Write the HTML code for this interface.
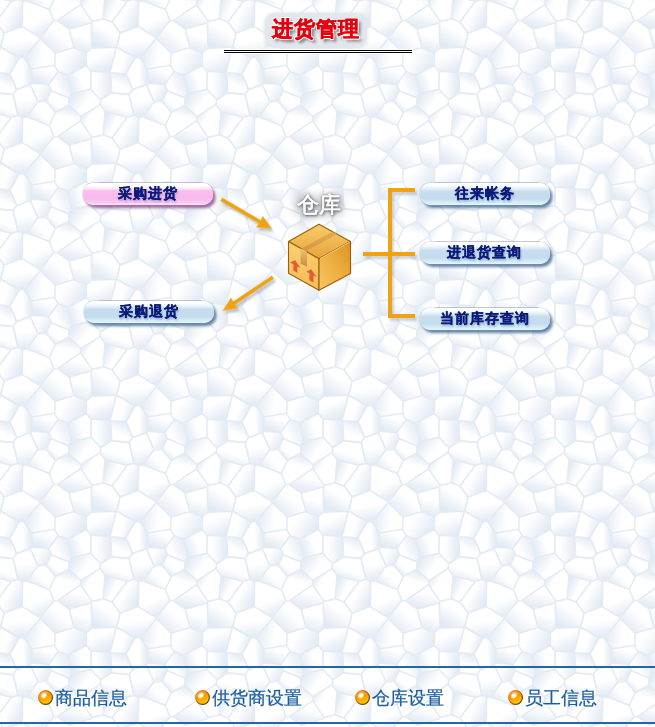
<!DOCTYPE html>
<html><head><meta charset="utf-8">
<style>
html,body{margin:0;padding:0;}
body{width:655px;height:727px;overflow:hidden;position:relative;background:#fff;font-family:"Liberation Sans",sans-serif;}
.abs{position:absolute;}
.title{left:265px;top:13px;width:102px;height:35px;border-radius:9px;background:rgba(224,229,235,.9);box-shadow:0 0 3px 1px rgba(224,229,235,.8);text-align:center;font-size:21px;font-weight:bold;line-height:32px;-webkit-text-stroke:.6px #e4000e;letter-spacing:1px;text-indent:-1px;color:#e4000e;text-shadow:1px 0 0 #fff,-1px 0 0 #fff,0 1px 0 #fff,0 -1px 0 #fff,1px 1px 0 #fff,-1px -1px 0 #fff,1px -1px 0 #fff,-1px 1px 0 #fff,3px 3px 3px rgba(0,0,0,.55);}
.dbl{left:223px;top:49px;width:190px;height:5px;background:#fff;}
.dbl:before,.dbl:after{content:"";position:absolute;left:1px;right:1px;height:1px;background:#000;}
.dbl:before{top:1px}.dbl:after{top:3px}
.btn{width:130px;height:22px;border-radius:10px;text-align:center;font-size:14px;font-weight:bold;line-height:21px;letter-spacing:1px;text-indent:-1px;color:#0a1a78;-webkit-text-stroke:.3px #0a1a78;text-shadow:1px 2px 2px rgba(30,70,150,.35);}
.btn:before{content:"";position:absolute;left:15px;right:12px;top:-1px;height:1px;background:rgba(140,140,160,.35);}
.pink{background:linear-gradient(#fff 0,#fff 12%,#fdeefa 24%,#fabdee 36%,#f9b8ec 70%,#fac8f0 88%,#fde4f8 100%);box-shadow:0 0 0 .6px rgba(170,130,170,.45),2.5px 3px 3px rgba(130,70,130,.8);}
.blue{background:linear-gradient(#fff 0,#fdfeff 12%,#e6f2fa 24%,#c8deef 38%,#c4dbee 70%,#d4eaf6 86%,#e4f6fc 100%);box-shadow:0 0 0 .6px rgba(130,160,190,.45),2.5px 3px 3px rgba(60,100,140,.8);}
.foot{top:688px;font-size:18px;line-height:20px;color:#1a5c9e;-webkit-text-stroke:.25px #1a5c9e;text-shadow:0 0 2px #fff,0 0 1px #e8f6ff;}
.orb{position:absolute;top:2px;left:0;}
.foot span{position:absolute;left:17px;top:0;white-space:nowrap;}
</style></head><body>
<svg class="abs" style="left:0;top:0" width="655" height="727"><defs><linearGradient id="g4" x1="1.00" y1="0.50" x2="0.00" y2="0.50"><stop offset="0" stop-color="#e1e9f4"/><stop offset="0.41" stop-color="#fff"/></linearGradient><linearGradient id="g10" x1="0.91" y1="0.78" x2="0.09" y2="0.22"><stop offset="0" stop-color="#e1e9f4"/><stop offset="0.59" stop-color="#fff"/></linearGradient><linearGradient id="g19" x1="0.60" y1="0.99" x2="0.40" y2="0.01"><stop offset="0" stop-color="#e1e9f4"/><stop offset="0.53" stop-color="#fff"/></linearGradient><linearGradient id="g2" x1="0.13" y1="0.84" x2="0.87" y2="0.16"><stop offset="0" stop-color="#e1e9f4"/><stop offset="0.51" stop-color="#fff"/></linearGradient><linearGradient id="g16" x1="0.57" y1="1.00" x2="0.43" y2="0.00"><stop offset="0" stop-color="#e1e9f4"/><stop offset="0.55" stop-color="#fff"/></linearGradient><linearGradient id="g18" x1="0.08" y1="0.22" x2="0.92" y2="0.78"><stop offset="0" stop-color="#e1e9f4"/><stop offset="0.55" stop-color="#fff"/></linearGradient><linearGradient id="g24" x1="0.28" y1="0.95" x2="0.72" y2="0.05"><stop offset="0" stop-color="#e1e9f4"/><stop offset="0.47" stop-color="#fff"/></linearGradient><linearGradient id="g0" x1="0.00" y1="0.43" x2="1.00" y2="0.57"><stop offset="0" stop-color="#e1e9f4"/><stop offset="0.62" stop-color="#fff"/></linearGradient><linearGradient id="g1" x1="0.12" y1="0.18" x2="0.88" y2="0.82"><stop offset="0" stop-color="#e1e9f4"/><stop offset="0.36" stop-color="#fff"/></linearGradient><linearGradient id="g3" x1="0.69" y1="0.96" x2="0.31" y2="0.04"><stop offset="0" stop-color="#e1e9f4"/><stop offset="0.47" stop-color="#fff"/></linearGradient><linearGradient id="g5" x1="0.93" y1="0.75" x2="0.07" y2="0.25"><stop offset="0" stop-color="#e1e9f4"/><stop offset="0.77" stop-color="#fff"/></linearGradient><linearGradient id="g6" x1="0.24" y1="0.93" x2="0.76" y2="0.07"><stop offset="0" stop-color="#e1e9f4"/><stop offset="0.62" stop-color="#fff"/></linearGradient><linearGradient id="g7" x1="0.95" y1="0.72" x2="0.05" y2="0.28"><stop offset="0" stop-color="#e1e9f4"/><stop offset="0.72" stop-color="#fff"/></linearGradient><linearGradient id="g8" x1="0.75" y1="0.93" x2="0.25" y2="0.07"><stop offset="0" stop-color="#e1e9f4"/><stop offset="0.72" stop-color="#fff"/></linearGradient><linearGradient id="g9" x1="0.97" y1="0.67" x2="0.03" y2="0.33"><stop offset="0" stop-color="#e1e9f4"/><stop offset="0.50" stop-color="#fff"/></linearGradient><linearGradient id="g11" x1="0.39" y1="0.99" x2="0.61" y2="0.01"><stop offset="0" stop-color="#e1e9f4"/><stop offset="0.60" stop-color="#fff"/></linearGradient><linearGradient id="g12" x1="0.33" y1="0.97" x2="0.67" y2="0.03"><stop offset="0" stop-color="#e1e9f4"/><stop offset="0.70" stop-color="#fff"/></linearGradient><linearGradient id="g13" x1="0.64" y1="0.02" x2="0.36" y2="0.98"><stop offset="0" stop-color="#e1e9f4"/><stop offset="0.39" stop-color="#fff"/></linearGradient><linearGradient id="g14" x1="0.04" y1="0.70" x2="0.96" y2="0.30"><stop offset="0" stop-color="#e1e9f4"/><stop offset="0.61" stop-color="#fff"/></linearGradient><linearGradient id="g15" x1="0.18" y1="0.89" x2="0.82" y2="0.11"><stop offset="0" stop-color="#e1e9f4"/><stop offset="0.62" stop-color="#fff"/></linearGradient><linearGradient id="g17" x1="0.94" y1="0.25" x2="0.06" y2="0.75"><stop offset="0" stop-color="#e1e9f4"/><stop offset="0.72" stop-color="#fff"/></linearGradient><linearGradient id="g20" x1="0.06" y1="0.26" x2="0.94" y2="0.74"><stop offset="0" stop-color="#e1e9f4"/><stop offset="0.48" stop-color="#fff"/></linearGradient><linearGradient id="g21" x1="0.15" y1="0.85" x2="0.85" y2="0.15"><stop offset="0" stop-color="#e1e9f4"/><stop offset="0.39" stop-color="#fff"/></linearGradient><linearGradient id="g22" x1="1.00" y1="0.50" x2="0.00" y2="0.50"><stop offset="0" stop-color="#e1e9f4"/><stop offset="0.76" stop-color="#fff"/></linearGradient><linearGradient id="g23" x1="0.24" y1="0.92" x2="0.76" y2="0.08"><stop offset="0" stop-color="#e1e9f4"/><stop offset="0.76" stop-color="#fff"/></linearGradient><linearGradient id="g25" x1="0.72" y1="0.05" x2="0.28" y2="0.95"><stop offset="0" stop-color="#e1e9f4"/><stop offset="0.63" stop-color="#fff"/></linearGradient><filter id="tb"><feGaussianBlur stdDeviation="0.7"/></filter><g id="tile"><path d="M5.8,67.0 L-1.9,55.7 L-6.9,55.8 L-15.9,71.9 L-9.2,87.4 L4.2,82.7 L5.5,81.2 L5.8,67.0Z" fill="url(#g4)"/><path d="M-29.8,19.9 L-21.9,31.0 L-3.7,24.6 L-3.5,-0.4 L-8.0,-2.8 L-14.9,-0.4 L-29.8,19.9Z" fill="url(#g10)"/><path d="M14.3,35.7 L14.4,36.5 L-1.9,55.7 L-6.9,55.8 L-25.2,45.0 L-21.9,31.0 L-3.7,24.6 L14.3,35.7Z" fill="url(#g19)"/><path d="M-21.9,147.0 L-29.8,135.9 L-14.9,115.6 L-8.0,113.2 L-3.5,115.6 L-3.7,140.6 L-21.9,147.0Z" fill="url(#g10)"/><path d="M23.3,7.5 L1.1,-1.1 L11.9,-16.1 L19.8,-16.7 L29.3,-5.5 L23.3,7.5Z" fill="url(#g2)"/><path d="M11.9,-16.1 L4.2,-33.3 L-9.2,-28.6 L-12.8,-23.4 L-8.0,-2.8 L-3.5,-0.4 L1.1,-1.1 L11.9,-16.1Z" fill="url(#g16)"/><path d="M54.8,-1.5 L74.0,-13.4 L74.7,-18.3 L65.0,-28.5 L45.7,-24.5 L42.9,-20.1 L42.7,-12.8 L54.8,-1.5Z" fill="url(#g18)"/><path d="M74.0,-13.4 L79.0,-6.5 L101.1,-0.4 L108.0,-2.8 L103.2,-23.4 L85.8,-25.1 L74.7,-18.3 L74.0,-13.4Z" fill="url(#g24)"/><path d="M28.6,63.2 L5.8,67.0 L-1.9,55.7 L14.4,36.5 L29.2,51.2 L28.6,63.2Z" fill="url(#g0)"/><path d="M54.8,-1.5 L74.0,-13.4 L79.0,-6.5 L77.2,16.7 L66.2,19.4 L54.6,2.7 L54.8,-1.5Z" fill="url(#g1)"/><path d="M11.9,99.9 L1.1,114.9 L23.3,123.5 L29.3,110.5 L19.8,99.3 L11.9,99.9Z" fill="url(#g2)"/><path d="M27.9,18.4 L14.3,35.7 L-3.7,24.6 L-3.5,-0.4 L1.1,-1.1 L23.3,7.5 L27.9,18.4Z" fill="url(#g3)"/><path d="M106.8,87.4 L120.2,82.7 L121.5,81.2 L121.8,67.0 L114.1,55.7 L109.1,55.8 L100.1,71.9 L106.8,87.4Z" fill="url(#g4)"/><path d="M28.6,63.2 L29.2,51.2 L47.8,45.4 L60.3,50.7 L60.3,63.6 L41.7,73.0 L32.0,69.6 L28.6,63.2Z" fill="url(#g5)"/><path d="M86.2,19.9 L94.1,31.0 L90.8,45.0 L90.3,45.3 L65.7,46.1 L65.4,20.8 L66.2,19.4 L77.2,16.7 L86.2,19.9Z" fill="url(#g6)"/><path d="M5.5,81.2 L4.2,82.7 L11.9,99.9 L19.8,99.3 L25.4,88.8 L22.9,82.5 L5.5,81.2Z" fill="url(#g7)"/><path d="M60.3,50.7 L65.7,46.1 L90.3,45.3 L84.1,70.2 L65.1,69.3 L60.3,63.6 L60.3,50.7Z" fill="url(#g8)"/><path d="M84.6,70.7 L84.1,70.2 L90.3,45.3 L90.8,45.0 L109.1,55.8 L100.1,71.9 L84.6,70.7Z" fill="url(#g9)"/><path d="M101.1,-0.4 L108.0,-2.8 L112.5,-0.4 L112.3,24.6 L94.1,31.0 L86.2,19.9 L101.1,-0.4Z" fill="url(#g10)"/><path d="M47.8,45.4 L43.1,27.2 L65.4,20.8 L65.7,46.1 L60.3,50.7 L47.8,45.4Z" fill="url(#g11)"/><path d="M31.3,18.7 L43.1,27.2 L65.4,20.8 L66.2,19.4 L54.6,2.7 L31.3,18.7Z" fill="url(#g12)"/><path d="M31.3,18.7 L54.6,2.7 L54.8,-1.5 L42.7,-12.8 L29.3,-5.5 L23.3,7.5 L27.9,18.4 L31.3,18.7Z" fill="url(#g13)"/><path d="M41.7,73.0 L45.7,91.5 L65.0,87.5 L65.1,69.3 L60.3,63.6 L41.7,73.0Z" fill="url(#g14)"/><path d="M31.3,18.7 L43.1,27.2 L47.8,45.4 L29.2,51.2 L14.4,36.5 L14.3,35.7 L27.9,18.4 L31.3,18.7Z" fill="url(#g15)"/><path d="M4.2,82.7 L-9.2,87.4 L-12.8,92.6 L-8.0,113.2 L-3.5,115.6 L1.1,114.9 L11.9,99.9 L4.2,82.7Z" fill="url(#g16)"/><path d="M32.0,69.6 L22.9,82.5 L25.4,88.8 L42.9,95.9 L45.7,91.5 L41.7,73.0 L32.0,69.6Z" fill="url(#g17)"/><path d="M65.0,87.5 L45.7,91.5 L42.9,95.9 L42.7,103.2 L54.8,114.5 L74.0,102.6 L74.7,97.7 L65.0,87.5Z" fill="url(#g18)"/><path d="M94.1,31.0 L90.8,45.0 L109.1,55.8 L114.1,55.7 L130.4,36.5 L130.3,35.7 L112.3,24.6 L94.1,31.0Z" fill="url(#g19)"/><path d="M101.1,-0.4 L86.2,19.9 L77.2,16.7 L79.0,-6.5 L101.1,-0.4Z" fill="url(#g20)"/><path d="M19.8,99.3 L29.3,110.5 L42.7,103.2 L42.9,95.9 L25.4,88.8 L19.8,99.3Z" fill="url(#g21)"/><path d="M85.8,90.9 L74.7,97.7 L65.0,87.5 L65.1,69.3 L84.1,70.2 L84.6,70.7 L85.8,90.9Z" fill="url(#g22)"/><path d="M28.6,63.2 L5.8,67.0 L5.5,81.2 L22.9,82.5 L32.0,69.6 L28.6,63.2Z" fill="url(#g23)"/><path d="M103.2,92.6 L108.0,113.2 L101.1,115.6 L79.0,109.5 L74.0,102.6 L74.7,97.7 L85.8,90.9 L103.2,92.6Z" fill="url(#g24)"/><path d="M103.2,92.6 L85.8,90.9 L84.6,70.7 L100.1,71.9 L106.8,87.4 L103.2,92.6Z" fill="url(#g25)"/><path d="M77.2,132.7 L79.0,109.5 L74.0,102.6 L54.8,114.5 L54.6,118.7 L66.2,135.4 L77.2,132.7Z" fill="url(#g1)"/><path d="M-3.7,140.6 L-3.5,115.6 L1.1,114.9 L23.3,123.5 L27.9,134.4 L14.3,151.7 L-3.7,140.6Z" fill="url(#g3)"/><path d="M108.0,113.2 L101.1,115.6 L86.2,135.9 L94.1,147.0 L112.3,140.6 L112.5,115.6 L108.0,113.2Z" fill="url(#g10)"/><path d="M65.4,136.8 L66.2,135.4 L54.6,118.7 L31.3,134.7 L43.1,143.2 L65.4,136.8Z" fill="url(#g12)"/><path d="M27.9,134.4 L23.3,123.5 L29.3,110.5 L42.7,103.2 L54.8,114.5 L54.6,118.7 L31.3,134.7 L27.9,134.4Z" fill="url(#g13)"/><path d="M86.2,135.9 L77.2,132.7 L79.0,109.5 L101.1,115.6 L86.2,135.9Z" fill="url(#g20)"/><path d="M139.3,7.5 L117.1,-1.1 L127.9,-16.1 L135.8,-16.7 L145.3,-5.5 L139.3,7.5Z" fill="url(#g2)"/><path d="M108.0,-2.8 L112.5,-0.4 L117.1,-1.1 L127.9,-16.1 L120.2,-33.3 L106.8,-28.6 L103.2,-23.4 L108.0,-2.8Z" fill="url(#g16)"/><path d="M144.6,63.2 L121.8,67.0 L114.1,55.7 L130.4,36.5 L145.2,51.2 L144.6,63.2Z" fill="url(#g0)"/><path d="M145.3,110.5 L139.3,123.5 L117.1,114.9 L127.9,99.9 L135.8,99.3 L145.3,110.5Z" fill="url(#g2)"/><path d="M112.3,24.6 L130.3,35.7 L143.9,18.4 L139.3,7.5 L117.1,-1.1 L112.5,-0.4 L112.3,24.6Z" fill="url(#g3)"/><path d="M103.2,92.6 L108.0,113.2 L112.5,115.6 L117.1,114.9 L127.9,99.9 L120.2,82.7 L106.8,87.4 L103.2,92.6Z" fill="url(#g16)"/><path d="M112.5,115.6 L117.1,114.9 L139.3,123.5 L143.9,134.4 L130.3,151.7 L112.3,140.6 L112.5,115.6Z" fill="url(#g3)"/><path d="M5.8,67.0 L-1.9,55.7 L-6.9,55.8 L-15.9,71.9 L-9.2,87.4 L4.2,82.7 L5.5,81.2 L5.8,67.0Z M-29.8,19.9 L-21.9,31.0 L-3.7,24.6 L-3.5,-0.4 L-8.0,-2.8 L-14.9,-0.4 L-29.8,19.9Z M14.3,35.7 L14.4,36.5 L-1.9,55.7 L-6.9,55.8 L-25.2,45.0 L-21.9,31.0 L-3.7,24.6 L14.3,35.7Z M-21.9,147.0 L-29.8,135.9 L-14.9,115.6 L-8.0,113.2 L-3.5,115.6 L-3.7,140.6 L-21.9,147.0Z M23.3,7.5 L1.1,-1.1 L11.9,-16.1 L19.8,-16.7 L29.3,-5.5 L23.3,7.5Z M11.9,-16.1 L4.2,-33.3 L-9.2,-28.6 L-12.8,-23.4 L-8.0,-2.8 L-3.5,-0.4 L1.1,-1.1 L11.9,-16.1Z M54.8,-1.5 L74.0,-13.4 L74.7,-18.3 L65.0,-28.5 L45.7,-24.5 L42.9,-20.1 L42.7,-12.8 L54.8,-1.5Z M74.0,-13.4 L79.0,-6.5 L101.1,-0.4 L108.0,-2.8 L103.2,-23.4 L85.8,-25.1 L74.7,-18.3 L74.0,-13.4Z M28.6,63.2 L5.8,67.0 L-1.9,55.7 L14.4,36.5 L29.2,51.2 L28.6,63.2Z M54.8,-1.5 L74.0,-13.4 L79.0,-6.5 L77.2,16.7 L66.2,19.4 L54.6,2.7 L54.8,-1.5Z M11.9,99.9 L1.1,114.9 L23.3,123.5 L29.3,110.5 L19.8,99.3 L11.9,99.9Z M27.9,18.4 L14.3,35.7 L-3.7,24.6 L-3.5,-0.4 L1.1,-1.1 L23.3,7.5 L27.9,18.4Z M106.8,87.4 L120.2,82.7 L121.5,81.2 L121.8,67.0 L114.1,55.7 L109.1,55.8 L100.1,71.9 L106.8,87.4Z M28.6,63.2 L29.2,51.2 L47.8,45.4 L60.3,50.7 L60.3,63.6 L41.7,73.0 L32.0,69.6 L28.6,63.2Z M86.2,19.9 L94.1,31.0 L90.8,45.0 L90.3,45.3 L65.7,46.1 L65.4,20.8 L66.2,19.4 L77.2,16.7 L86.2,19.9Z M5.5,81.2 L4.2,82.7 L11.9,99.9 L19.8,99.3 L25.4,88.8 L22.9,82.5 L5.5,81.2Z M60.3,50.7 L65.7,46.1 L90.3,45.3 L84.1,70.2 L65.1,69.3 L60.3,63.6 L60.3,50.7Z M84.6,70.7 L84.1,70.2 L90.3,45.3 L90.8,45.0 L109.1,55.8 L100.1,71.9 L84.6,70.7Z M101.1,-0.4 L108.0,-2.8 L112.5,-0.4 L112.3,24.6 L94.1,31.0 L86.2,19.9 L101.1,-0.4Z M47.8,45.4 L43.1,27.2 L65.4,20.8 L65.7,46.1 L60.3,50.7 L47.8,45.4Z M31.3,18.7 L43.1,27.2 L65.4,20.8 L66.2,19.4 L54.6,2.7 L31.3,18.7Z M31.3,18.7 L54.6,2.7 L54.8,-1.5 L42.7,-12.8 L29.3,-5.5 L23.3,7.5 L27.9,18.4 L31.3,18.7Z M41.7,73.0 L45.7,91.5 L65.0,87.5 L65.1,69.3 L60.3,63.6 L41.7,73.0Z M31.3,18.7 L43.1,27.2 L47.8,45.4 L29.2,51.2 L14.4,36.5 L14.3,35.7 L27.9,18.4 L31.3,18.7Z M4.2,82.7 L-9.2,87.4 L-12.8,92.6 L-8.0,113.2 L-3.5,115.6 L1.1,114.9 L11.9,99.9 L4.2,82.7Z M32.0,69.6 L22.9,82.5 L25.4,88.8 L42.9,95.9 L45.7,91.5 L41.7,73.0 L32.0,69.6Z M65.0,87.5 L45.7,91.5 L42.9,95.9 L42.7,103.2 L54.8,114.5 L74.0,102.6 L74.7,97.7 L65.0,87.5Z M94.1,31.0 L90.8,45.0 L109.1,55.8 L114.1,55.7 L130.4,36.5 L130.3,35.7 L112.3,24.6 L94.1,31.0Z M101.1,-0.4 L86.2,19.9 L77.2,16.7 L79.0,-6.5 L101.1,-0.4Z M19.8,99.3 L29.3,110.5 L42.7,103.2 L42.9,95.9 L25.4,88.8 L19.8,99.3Z M85.8,90.9 L74.7,97.7 L65.0,87.5 L65.1,69.3 L84.1,70.2 L84.6,70.7 L85.8,90.9Z M28.6,63.2 L5.8,67.0 L5.5,81.2 L22.9,82.5 L32.0,69.6 L28.6,63.2Z M103.2,92.6 L108.0,113.2 L101.1,115.6 L79.0,109.5 L74.0,102.6 L74.7,97.7 L85.8,90.9 L103.2,92.6Z M103.2,92.6 L85.8,90.9 L84.6,70.7 L100.1,71.9 L106.8,87.4 L103.2,92.6Z M77.2,132.7 L79.0,109.5 L74.0,102.6 L54.8,114.5 L54.6,118.7 L66.2,135.4 L77.2,132.7Z M-3.7,140.6 L-3.5,115.6 L1.1,114.9 L23.3,123.5 L27.9,134.4 L14.3,151.7 L-3.7,140.6Z M108.0,113.2 L101.1,115.6 L86.2,135.9 L94.1,147.0 L112.3,140.6 L112.5,115.6 L108.0,113.2Z M65.4,136.8 L66.2,135.4 L54.6,118.7 L31.3,134.7 L43.1,143.2 L65.4,136.8Z M27.9,134.4 L23.3,123.5 L29.3,110.5 L42.7,103.2 L54.8,114.5 L54.6,118.7 L31.3,134.7 L27.9,134.4Z M86.2,135.9 L77.2,132.7 L79.0,109.5 L101.1,115.6 L86.2,135.9Z M139.3,7.5 L117.1,-1.1 L127.9,-16.1 L135.8,-16.7 L145.3,-5.5 L139.3,7.5Z M108.0,-2.8 L112.5,-0.4 L117.1,-1.1 L127.9,-16.1 L120.2,-33.3 L106.8,-28.6 L103.2,-23.4 L108.0,-2.8Z M144.6,63.2 L121.8,67.0 L114.1,55.7 L130.4,36.5 L145.2,51.2 L144.6,63.2Z M145.3,110.5 L139.3,123.5 L117.1,114.9 L127.9,99.9 L135.8,99.3 L145.3,110.5Z M112.3,24.6 L130.3,35.7 L143.9,18.4 L139.3,7.5 L117.1,-1.1 L112.5,-0.4 L112.3,24.6Z M103.2,92.6 L108.0,113.2 L112.5,115.6 L117.1,114.9 L127.9,99.9 L120.2,82.7 L106.8,87.4 L103.2,92.6Z M112.5,115.6 L117.1,114.9 L139.3,123.5 L143.9,134.4 L130.3,151.7 L112.3,140.6 L112.5,115.6Z" fill="none" stroke="#e5ebf3" stroke-width="1.6" stroke-linejoin="round"/></g><clipPath id="tc"><rect x="0" y="0" width="116" height="116"/></clipPath></defs><g filter="url(#tb)"><use href="#tile" x="-90" y="-114"/><use href="#tile" x="-90" y="2"/><use href="#tile" x="-90" y="118"/><use href="#tile" x="-90" y="234"/><use href="#tile" x="-90" y="350"/><use href="#tile" x="-90" y="466"/><use href="#tile" x="-90" y="582"/><use href="#tile" x="26" y="-114"/><use href="#tile" x="26" y="2"/><use href="#tile" x="26" y="118"/><use href="#tile" x="26" y="234"/><use href="#tile" x="26" y="350"/><use href="#tile" x="26" y="466"/><use href="#tile" x="26" y="582"/><use href="#tile" x="142" y="-114"/><use href="#tile" x="142" y="2"/><use href="#tile" x="142" y="118"/><use href="#tile" x="142" y="234"/><use href="#tile" x="142" y="350"/><use href="#tile" x="142" y="466"/><use href="#tile" x="142" y="582"/><use href="#tile" x="258" y="-114"/><use href="#tile" x="258" y="2"/><use href="#tile" x="258" y="118"/><use href="#tile" x="258" y="234"/><use href="#tile" x="258" y="350"/><use href="#tile" x="258" y="466"/><use href="#tile" x="258" y="582"/><use href="#tile" x="374" y="-114"/><use href="#tile" x="374" y="2"/><use href="#tile" x="374" y="118"/><use href="#tile" x="374" y="234"/><use href="#tile" x="374" y="350"/><use href="#tile" x="374" y="466"/><use href="#tile" x="374" y="582"/><use href="#tile" x="490" y="-114"/><use href="#tile" x="490" y="2"/><use href="#tile" x="490" y="118"/><use href="#tile" x="490" y="234"/><use href="#tile" x="490" y="350"/><use href="#tile" x="490" y="466"/><use href="#tile" x="490" y="582"/><use href="#tile" x="606" y="-114"/><use href="#tile" x="606" y="2"/><use href="#tile" x="606" y="118"/><use href="#tile" x="606" y="234"/><use href="#tile" x="606" y="350"/><use href="#tile" x="606" y="466"/><use href="#tile" x="606" y="582"/></g></svg>

<svg class="abs" style="left:0;top:0" width="655" height="727" viewBox="0 0 655 727">
<defs>
<filter id="sh" x="-20%" y="-20%" width="140%" height="140%"><feGaussianBlur stdDeviation="1.2"/></filter>
<linearGradient id="gl" x1="0" y1="0" x2="0" y2="1"><stop offset="0" stop-color="#fbd070"/><stop offset="1" stop-color="#f5bc55"/></linearGradient>
<linearGradient id="gr" x1="1" y1="0" x2="0" y2="1"><stop offset="0" stop-color="#dd9420"/><stop offset="0.6" stop-color="#f0b448"/><stop offset="1" stop-color="#f8c660"/></linearGradient>
<linearGradient id="gt" x1="0" y1="0" x2="0" y2="1"><stop offset="0" stop-color="#f9cc68"/><stop offset="1" stop-color="#e6a43c"/></linearGradient><linearGradient id="gtape" x1="0" y1="0" x2="1" y2="0"><stop offset="0" stop-color="#d8983a"/><stop offset="1" stop-color="#e0aa50"/></linearGradient><linearGradient id="gtape2" x1="0" y1="0" x2="0" y2="1"><stop offset="0" stop-color="#ecc474"/><stop offset="1" stop-color="#c88e3c"/></linearGradient>
</defs>
<!-- arrow 1 shadow + arrow -->
<g>
<path d="M220.5,201.0 L258.8,223.3 L256.5,227.2 L271.8,228.8 L262.9,216.3 L260.6,220.2 L222.3,197.8 Z" fill="#7a8698" opacity=".45" transform="translate(2,3)" filter="url(#sh)"/>
<path d="M220.5,201.0 L258.8,223.3 L256.5,227.2 L271.8,228.8 L262.9,216.3 L260.6,220.2 L222.3,197.8 Z" fill="#eda214" stroke="#f6c060" stroke-width=".6"/>
</g>
<g>
<path d="M271.9,275.7 L233.4,301.5 L230.9,297.8 L222.8,310.8 L237.9,308.2 L235.4,304.5 L273.9,278.7 Z" fill="#7a8698" opacity=".45" transform="translate(2,3)" filter="url(#sh)"/>
<path d="M271.9,275.7 L233.4,301.5 L230.9,297.8 L222.8,310.8 L237.9,308.2 L235.4,304.5 L273.9,278.7 Z" fill="#eda214" stroke="#f6c060" stroke-width=".6"/>
</g>
<!-- bracket -->
<g fill="#8a96a8" opacity=".4" transform="translate(2,3)" filter="url(#sh)">
<rect x="388" y="188" width="4" height="130"/><rect x="388" y="188" width="27" height="4"/><rect x="363" y="252" width="52" height="4"/><rect x="388" y="314" width="27" height="4"/>
</g>
<g fill="#eea412">
<rect x="388" y="188" width="4" height="130"/><rect x="388" y="188" width="27" height="4"/><rect x="363" y="252" width="52" height="4"/><rect x="388" y="314" width="27" height="4"/>
</g>
<!-- box -->
<g stroke="#9a5e10" stroke-width="1.1" stroke-linejoin="round">
<path d="M288.5,241.5 L319,224.3 L350.5,241.5 L319,258.8 Z" fill="url(#gt)"/>
<path d="M288.5,241.5 L319,258.8 L319,290.3 L288.5,273.3 Z" fill="url(#gl)"/>
<path d="M319,258.8 L350.5,241.5 L350.5,273.6 L319,290.3 Z" fill="url(#gr)"/>
</g>
<path d="M320,258.6 L349.6,242.2" stroke="#fbd88a" stroke-width="1" fill="none"/>
<path d="M301.5,248.8 L306,251.3 L337,234.2 L332.5,231.8 Z" fill="url(#gtape)"/>
<path d="M300.5,248.2 L307,251.8 L307,266.8 L300.5,263.6 Z" fill="url(#gtape2)"/>
<path d="M295.2,260.2 L300.6,268.2 L297.4,266.5 L297.4,272.8 L293.4,270.6 L293.4,264.3 L290,262.4 Z" fill="#e85a36"/>
<path d="M311.2,269.2 L316.5,277.1 L313.4,275.5 L313.4,282.5 L309.4,280.3 L309.4,273.3 L306.2,271.8 Z" fill="#e85a36"/>
</svg>
<div class="abs title">进货管理</div>
<div class="abs dbl"></div>
<div class="abs" style="left:295px;top:195px;width:48px;height:22px;background:rgba(110,115,120,.28);filter:blur(4px);border-radius:6px;"></div><div class="abs label" style="left:297px;top:191px;font-size:22px;line-height:27px;color:#fff;-webkit-text-stroke:.7px #fff;text-shadow:0 0 2px #555,1px 1px 3px #444,0 0 5px #999;">仓库</div>

<div class="abs btn pink" style="left:83px;top:183px;">采购进货</div>
<div class="abs btn blue" style="left:84px;top:301px;">采购退货</div>
<div class="abs btn blue" style="left:420px;top:183px;">往来帐务</div>
<div class="abs btn blue" style="left:420px;top:242px;">进退货查询</div>
<div class="abs btn blue" style="left:420px;top:308px;">当前库存查询</div>

<div class="abs" style="left:0;top:666px;width:655px;height:2px;background:#2366a6;"></div>
<div class="abs" style="left:0;top:722px;width:655px;height:2px;background:#2366a6;"></div>
<svg width="0" height="0" style="position:absolute"><defs><linearGradient id="og" x1="0.2" y1="0" x2="0.6" y2="1"><stop offset="0" stop-color="#ffb030"/><stop offset=".45" stop-color="#f59800"/><stop offset="1" stop-color="#ffd200"/></linearGradient><linearGradient id="os" x1="0" y1="0" x2="1" y2="1"><stop offset="0" stop-color="#f0a060"/><stop offset=".45" stop-color="#b86810"/><stop offset="1" stop-color="#301800"/></linearGradient><radialGradient id="oh"><stop offset="0" stop-color="#fff"/><stop offset=".45" stop-color="#fff" stop-opacity=".9"/><stop offset="1" stop-color="#fff" stop-opacity="0"/></radialGradient></defs></svg>
<div class="abs foot" style="left:38px;"><svg class="orb" width="15" height="15" viewBox="0 0 15 15"><circle cx="7.5" cy="7.5" r="6.9" fill="url(#og)" stroke="url(#os)" stroke-width="1.1"/><ellipse cx="6" cy="5.6" rx="4" ry="3.2" transform="rotate(-40 6 5.6)" fill="url(#oh)"/></svg><span>商品信息</span></div>
<div class="abs foot" style="left:195px;"><svg class="orb" width="15" height="15" viewBox="0 0 15 15"><circle cx="7.5" cy="7.5" r="6.9" fill="url(#og)" stroke="url(#os)" stroke-width="1.1"/><ellipse cx="6" cy="5.6" rx="4" ry="3.2" transform="rotate(-40 6 5.6)" fill="url(#oh)"/></svg><span>供货商设置</span></div>
<div class="abs foot" style="left:355px;"><svg class="orb" width="15" height="15" viewBox="0 0 15 15"><circle cx="7.5" cy="7.5" r="6.9" fill="url(#og)" stroke="url(#os)" stroke-width="1.1"/><ellipse cx="6" cy="5.6" rx="4" ry="3.2" transform="rotate(-40 6 5.6)" fill="url(#oh)"/></svg><span>仓库设置</span></div>
<div class="abs foot" style="left:508px;"><svg class="orb" width="15" height="15" viewBox="0 0 15 15"><circle cx="7.5" cy="7.5" r="6.9" fill="url(#og)" stroke="url(#os)" stroke-width="1.1"/><ellipse cx="6" cy="5.6" rx="4" ry="3.2" transform="rotate(-40 6 5.6)" fill="url(#oh)"/></svg><span>员工信息</span></div>
</body></html>
